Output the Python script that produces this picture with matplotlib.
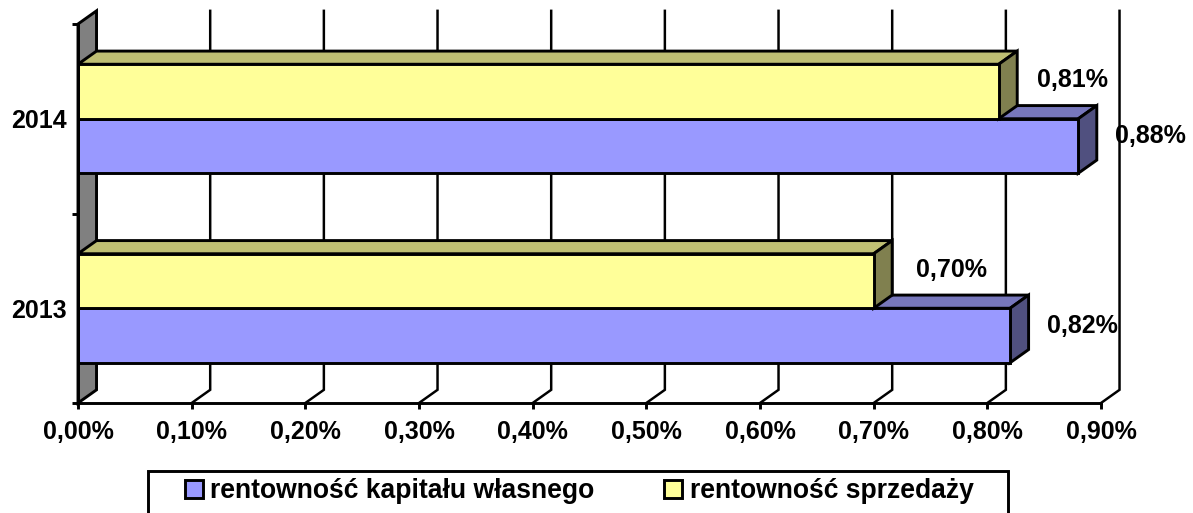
import matplotlib
matplotlib.use("Agg")
import matplotlib.pyplot as plt
from matplotlib.patches import Rectangle

plt.rcParams['font.family'] = ['Liberation Sans', 'DejaVu Sans']
plt.rcParams['font.weight'] = 'bold'
plt.rcParams['font.size'] = 18

years = ['2013', '2014']
kapital = [0.82, 0.88]
sprzedaz = [0.70, 0.81]
kapital_labels = ['0,82%', '0,88%']
sprzedaz_labels = ['0,70%', '0,81%']
x_ticks = [0.0, 0.1, 0.2, 0.3, 0.4, 0.5, 0.6, 0.7, 0.8, 0.9]
x_tick_labels = ['0,00%', '0,10%', '0,20%', '0,30%', '0,40%', '0,50%', '0,60%', '0,70%', '0,80%', '0,90%']

# fake 3d depth in data units
dx = 0.0163
dy = 0.0695
bar_h = 0.2876
lw = 2.1

fig = plt.figure(figsize=(11.93, 5.13), dpi=100)
ax = fig.add_axes([78 / 1193, 1 - 403 / 513, (1101 - 78) / 1193, (403 - 24) / 513])
ax.set_xlim(0, 0.9)
ax.set_ylim(-0.5, 1.5)

# left wall and back gridlines
ax.fill([0, dx, dx, 0], [-0.5, -0.5 + dy, 1.5 + dy, 1.5], facecolor='#808080',
        edgecolor='black', lw=lw, clip_on=False, zorder=1)
for t in x_ticks[1:]:
    ax.plot([t, t + dx, t + dx], [-0.5, -0.5 + dy, 1.5 + dy], color='black', lw=lw * 0.85,
            clip_on=False, zorder=1, solid_joinstyle='miter')


def draw_bar(val, y0, front, top, side, zorder):
    y1 = y0 + bar_h
    ax.fill([0, dx, val + dx, val], [y1, y1 + dy, y1 + dy, y1], facecolor=top,
            edgecolor='black', lw=lw, clip_on=False, zorder=zorder)
    ax.fill([val, val + dx, val + dx, val], [y0, y0 + dy, y1 + dy, y1], facecolor=side,
            edgecolor='black', lw=lw, clip_on=False, zorder=zorder)
    return ax.barh(y0, val, height=bar_h, align='edge', color=front, edgecolor='black',
                   lw=lw, clip_on=False, zorder=zorder)


# x offset of the yellow labels differs a bit per year
sprzedaz_shift = [78, 74]
for i in range(len(years)):
    z = 2 + i * 2
    b1 = draw_bar(kapital[i], i - bar_h, '#9999FF', '#7777BB', '#50507F', z)
    b2 = draw_bar(sprzedaz[i], i, '#FFFF99', '#BFBF73', '#80804F', z + 1)
    ax.annotate(kapital_labels[i], (kapital[i], i - bar_h / 2), xytext=(72, 10),
                textcoords='offset pixels', ha='center', va='center', zorder=10)
    ax.annotate(sprzedaz_labels[i], (sprzedaz[i], i + bar_h / 2), xytext=(sprzedaz_shift[i], 11),
                textcoords='offset pixels', ha='center', va='center', zorder=10)

ax.set_xticks(x_ticks)
ax.set_xticklabels(x_tick_labels)
ax.set_yticks([-0.5, 0.5, 1.5])
ax.set_yticklabels([])
ax.set_yticks([0, 1], labels=years, minor=True)
ax.tick_params(axis='both', which='major', length=4.3, width=lw, color='black')
ax.tick_params(axis='y', which='minor', length=0, pad=8)
ax.tick_params(axis='x', pad=8)

for s in ['top', 'right']:
    ax.spines[s].set_visible(False)
for s in ['left', 'bottom']:
    ax.spines[s].set_linewidth(lw)
    ax.spines[s].set_zorder(9)

# legend box runs off the bottom of the picture
fig.add_artist(Rectangle((148 / 1193, -0.05), (1008 - 148) / 1193, 0.05 + 1 - 471 / 513,
                         transform=fig.transFigure, facecolor='white', edgecolor='black', lw=lw))
fig.legend([b1, b2], ['rentowność kapitału własnego', 'rentowność sprzedaży'],
           ncol=2, frameon=False, loc='center left', bbox_to_anchor=(185 / 1193, 1 - 491 / 513),
           borderpad=0, borderaxespad=0, fontsize=19.1, handlelength=0.66, handleheight=0.66,
           handletextpad=0.3, columnspacing=2.62)

fig.savefig('out.png', dpi=100)
